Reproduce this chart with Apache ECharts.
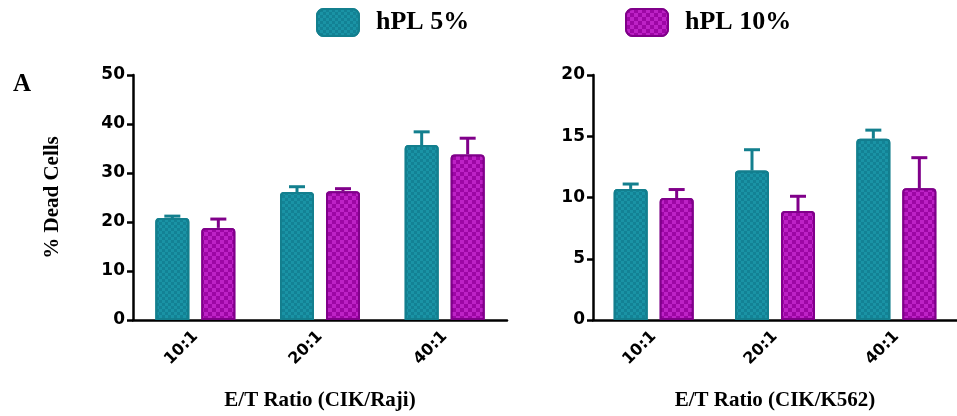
<!DOCTYPE html>
<html>
<head>
<meta charset="utf-8">
<script src="https://cdn.jsdelivr.net/npm/echarts@6/dist/echarts.min.js"></script>
<style>
html,body{margin:0;padding:0;background:#fff;}
#chart{width:957px;height:416px;}
</style>
</head>
<body>
<div id="chart"></div>
<script>
// ---- data ----
const categories = ['10:1', '20:1', '40:1'];
const seriesNames = ['hPL 5%', 'hPL 10%'];
const rajiHPL5 = [20.8, 26.1, 35.7];
const rajiHPL5Err = [0.4, 1.1, 2.7];
const rajiHPL10 = [18.8, 26.3, 33.8];
const rajiHPL10Err = [1.8, 0.5, 3.3];
const k562HPL5 = [10.7, 12.2, 14.8];
const k562HPL5Err = [0.4, 1.7, 0.7];
const k562HPL10 = [9.95, 8.9, 10.75];
const k562HPL10Err = [0.7, 1.2, 2.5];
const rajiTicks = [0, 10, 20, 30, 40, 50];
const k562Ticks = [0, 5, 10, 15, 20];
const xTitles = ['E/T Ratio (CIK/Raji)', 'E/T Ratio (CIK/K562)'];
const yTitle = '% Dead Cells';
const panelLabel = 'A';

// ---- styles ----
const BAR_W = 34, BAR_GAP = 12;
const OFFSET = (BAR_W + BAR_GAP) / 2;
const teal = {fill: '#1a93a5', border: '#137f8e', decal: 'rgba(10,110,130,0.45)', size: 3};
const magenta = {fill: '#9d06a5', border: '#80008a', decal: '#bd22c6', size: 4};
const serif = '"Liberation Serif", "Times New Roman", serif';
const sans = '"DejaVu Sans", Verdana, sans-serif';

function decal(c) {
  return {
    symbol: 'rect', symbolSize: 1, color: c.decal, rotation: 0,
    dashArrayX: [[c.size, c.size], [0, c.size, c.size, 0]],
    dashArrayY: [c.size, 0]
  };
}
function barSeries(name, data, c, gi) {
  return {
    type: 'bar', name: name, data: data, xAxisIndex: gi, yAxisIndex: gi,
    barWidth: BAR_W, barGap: (BAR_GAP / BAR_W * 100) + '%',
    itemStyle: {color: c.fill, borderColor: c.border, borderWidth: 2, borderRadius: [3, 3, 0, 0], decal: decal(c)},
    emphasis: {disabled: true}, z: 2
  };
}
function errSeries(vals, errs, c, gi, side) {
  return {
    type: 'custom', xAxisIndex: gi, yAxisIndex: gi, z: 1, silent: true,
    data: vals.map((v, i) => [i, v, errs[i]]),
    renderItem: function (params, api) {
      const base = api.coord([api.value(0), api.value(1)]);
      const top = api.coord([api.value(0), api.value(1) + api.value(2)]);
      const x = base[0] + side * OFFSET;
      const st = {stroke: c.border, lineWidth: 3};
      return {
        type: 'group', children: [
          {type: 'line', shape: {x1: x, y1: base[1], x2: x, y2: top[1]}, style: st},
          {type: 'line', shape: {x1: x - 8, y1: top[1], x2: x + 8, y2: top[1]}, style: st}
        ]
      };
    }
  };
}
function xAxis(gi) {
  return {
    type: 'category', gridIndex: gi, data: categories,
    axisLine: {lineStyle: {color: '#000', width: 2.5}},
    axisTick: {alignWithLabel: true, length: 6, lineStyle: {color: '#000', width: 2.5}},
    axisLabel: {rotate: 45, color: '#000', fontFamily: sans, fontWeight: 'bold', fontSize: 16, margin: 14},
    name: xTitles[gi], nameLocation: 'middle', nameGap: 70,
    nameTextStyle: {color: '#000', fontFamily: serif, fontWeight: 'bold', fontSize: 21}
  };
}
function yAxis(gi, ticks, withName) {
  const o = {
    type: 'value', gridIndex: gi, min: ticks[0], max: ticks[ticks.length - 1],
    interval: ticks[1] - ticks[0],
    splitLine: {show: false},
    axisLine: {show: true, lineStyle: {color: '#000', width: 2.5}},
    axisTick: {show: true, length: 6, lineStyle: {color: '#000', width: 2.5}},
    axisLabel: {color: '#000', fontFamily: sans, fontWeight: 'bold', fontSize: 17, margin: 8}
  };
  if (withName) {
    Object.assign(o, {
      name: yTitle, nameLocation: 'middle', nameGap: 70, nameRotate: 90,
      nameTextStyle: {color: '#000', fontFamily: serif, fontWeight: 'bold', fontSize: 21}
    });
  }
  return o;
}
function legend(name, left) {
  return {
    data: [name], left: left, top: 8, padding: 0, itemWidth: 42, itemHeight: 27, icon: 'roundRect',
    selectedMode: false,
    textStyle: {color: '#000', fontFamily: serif, fontWeight: 'bold', fontSize: 26, padding: [0, 0, 0, 12]}
  };
}

const chart = echarts.init(document.getElementById('chart'), null, {renderer: 'canvas'});
chart.setOption({
  animation: false,
  backgroundColor: '#fff',
  legend: [legend(seriesNames[0], 316), legend(seriesNames[1], 625)],
  graphic: [{
    type: 'text', left: 13, top: 72,
    style: {text: panelLabel, fill: '#000', font: 'bold 25px ' + serif}
  }],
  grid: [
    {left: 133, top: 75, width: 374, height: 249},
    {left: 593, top: 75, width: 373, height: 248}
  ],
  xAxis: [xAxis(0), xAxis(1)],
  yAxis: [yAxis(0, rajiTicks, true), yAxis(1, k562Ticks, false)],
  series: [
    barSeries(seriesNames[0], rajiHPL5, teal, 0),
    barSeries(seriesNames[1], rajiHPL10, magenta, 0),
    barSeries(seriesNames[0], k562HPL5, teal, 1),
    barSeries(seriesNames[1], k562HPL10, magenta, 1),
    errSeries(rajiHPL5, rajiHPL5Err, teal, 0, -1),
    errSeries(rajiHPL10, rajiHPL10Err, magenta, 0, 1),
    errSeries(k562HPL5, k562HPL5Err, teal, 1, -1),
    errSeries(k562HPL10, k562HPL10Err, magenta, 1, 1)
  ]
});
</script>
</body>
</html>
